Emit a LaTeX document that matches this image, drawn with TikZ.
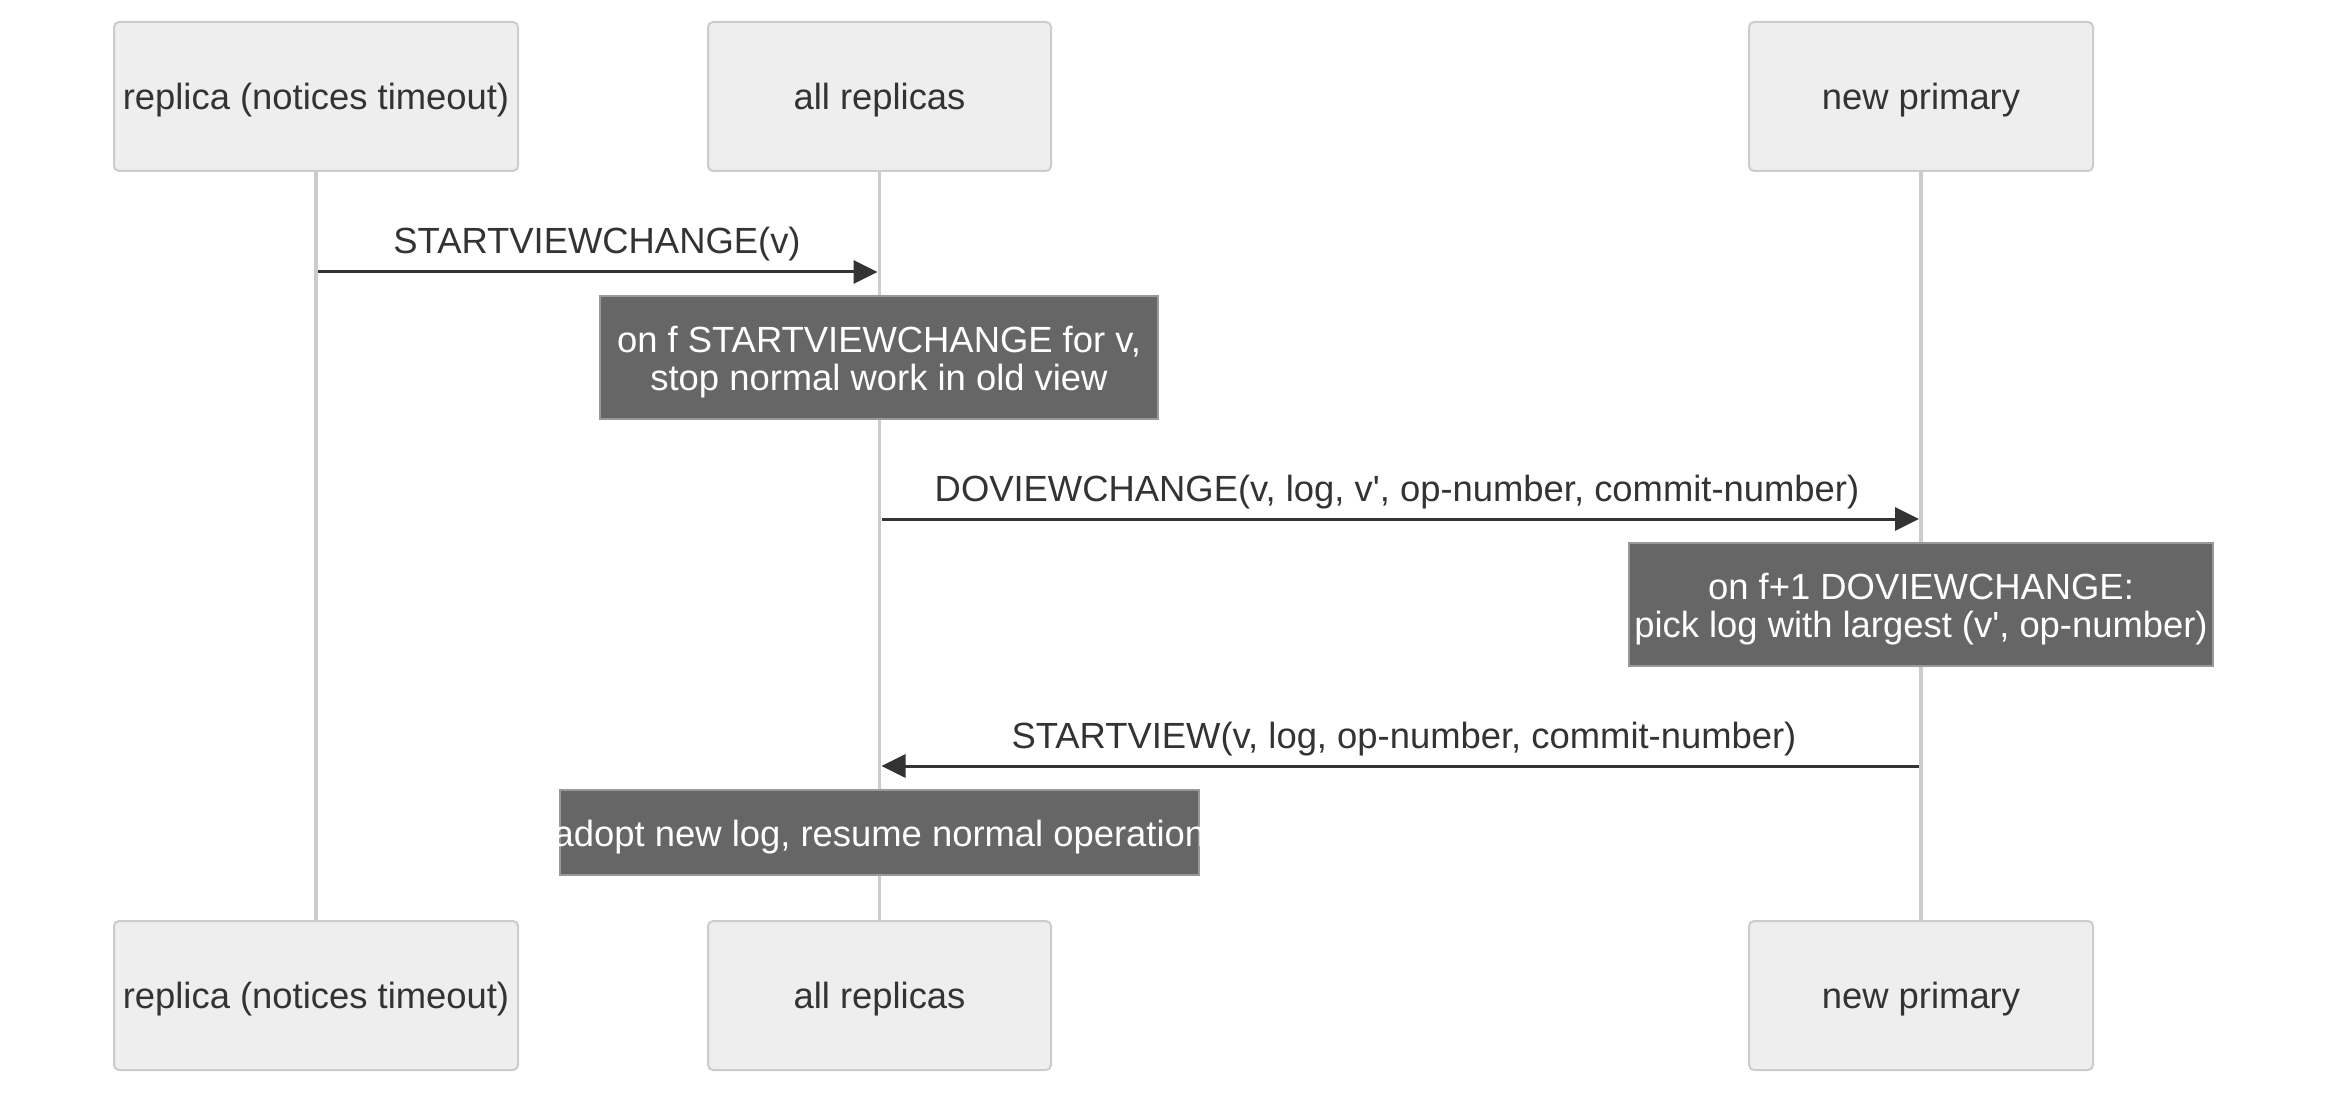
\documentclass[tikz,border=0pt]{standalone}
\usepackage{fontspec}
\setmainfont{Liberation Sans}[Ligatures=TeXOff]
\usetikzlibrary{arrows.meta}
\definecolor{actfill}{HTML}{EEEEEE}
\definecolor{actline}{HTML}{CCCCCC}
\definecolor{txt}{HTML}{333333}
\definecolor{notefill}{HTML}{666666}
\definecolor{noteline}{HTML}{999999}
\begin{document}
\begin{tikzpicture}[x=0.5pt,y=-0.5pt,
  every node/.style={font=\fontsize{18.2}{19}\selectfont, inner sep=0pt},
  actor/.style={draw=actline, fill=actfill, line width=1pt, rounded corners=2.5pt,
    minimum height=74.5pt},
  acttext/.style={text=txt},
  lifeline/.style={draw=actline, line width=1.6pt},
  msg/.style={draw=txt, line width=1.5pt, -{Triangle[length=12pt,width=11.5pt]}},
  msglabel/.style={text=txt, anchor=base},
  note/.style={draw=noteline, fill=notefill, line width=1pt},
  notetext/.style={text=white, align=center}
]
\useasboundingbox (0,0) rectangle (2352,1107);
% actors
\node[actor, minimum width=202pt] (a1) at (316,96.5) {};
\node[actor, minimum width=171.5pt] (a2) at (879.5,96.5) {};
\node[actor, minimum width=172pt] (a3) at (1921,96.5) {};
\node[actor, minimum width=202pt] (b1) at (316,995.5) {};
\node[actor, minimum width=171.5pt] (b2) at (879.5,995.5) {};
\node[actor, minimum width=172pt] (b3) at (1921,995.5) {};
\node[acttext] (a1t) at ([yshift=-1.6pt]a1.center) {replica (notices timeout)};
\node[acttext] (a2t) at ([yshift=-1.6pt]a2.center) {all replicas};
\node[acttext] (a3t) at ([yshift=-1.6pt]a3.center) {new primary};
\node[acttext] (b1t) at ([yshift=-1.6pt]b1.center) {replica (notices timeout)};
\node[acttext] (b2t) at ([yshift=-1.6pt]b2.center) {all replicas};
\node[acttext] (b3t) at ([yshift=-1.6pt]b3.center) {new primary};
% lifelines
\draw[lifeline] (a1.south) -- (b1.north);
\draw[lifeline] (a2.south) -- (b2.north);
\draw[lifeline] (a3.south) -- (b3.north);
% message endpoints
\coordinate (m1s) at ([xshift=1pt]a1.south |- 0,272);
\coordinate (m1e) at ([xshift=-1pt]a2.south |- 0,272);
\coordinate (m2s) at ([xshift=1pt]a2.south |- 0,519);
\coordinate (m2e) at ([xshift=-1pt]a3.south |- 0,519);
\coordinate (m3s) at ([xshift=-1pt]a3.south |- 0,766);
\coordinate (m3e) at ([xshift=1pt]a2.south |- 0,766);
% messages
\draw[msg] (m1s) -- (m1e);
\node[msglabel] (l1) at (597,254) {STARTVIEWCHANGE(v)};
\draw[msg] (m2s) -- (m2e);
\node[msglabel] (l2) at (1397,501) {DOVIEWCHANGE(v, log, v', op-number, commit-number)};
\draw[msg] (m3s) -- (m3e);
\node[msglabel] (l3) at (1404,748) {STARTVIEW(v, log, op-number, commit-number)};
% notes
\node[note, minimum width=279pt, minimum height=61.5pt] (n1) at (879,357.5) {};
\node[notetext] (n1t) at ([yshift=-2.5pt]n1.center)
  {on f STARTVIEWCHANGE for v,\\stop normal work in old view};
\node[note, minimum width=292pt, minimum height=61.5pt] (n2) at (1921,604.5) {};
\node[notetext] (n2t) at ([yshift=-2.5pt]n2.center)
  {on f+1 DOVIEWCHANGE:\\pick log with largest (v', op-number)};
\node[note, minimum width=319.5pt, minimum height=42.5pt] (n3) at (879.5,832.5) {};
\begin{scope}
  \clip (n3.south west) rectangle (n3.north east);
  \node[notetext] (n3t) at ([yshift=-2.2pt]n3.center) {adopt new log, resume normal operation};
\end{scope}
\end{tikzpicture}
\end{document}
